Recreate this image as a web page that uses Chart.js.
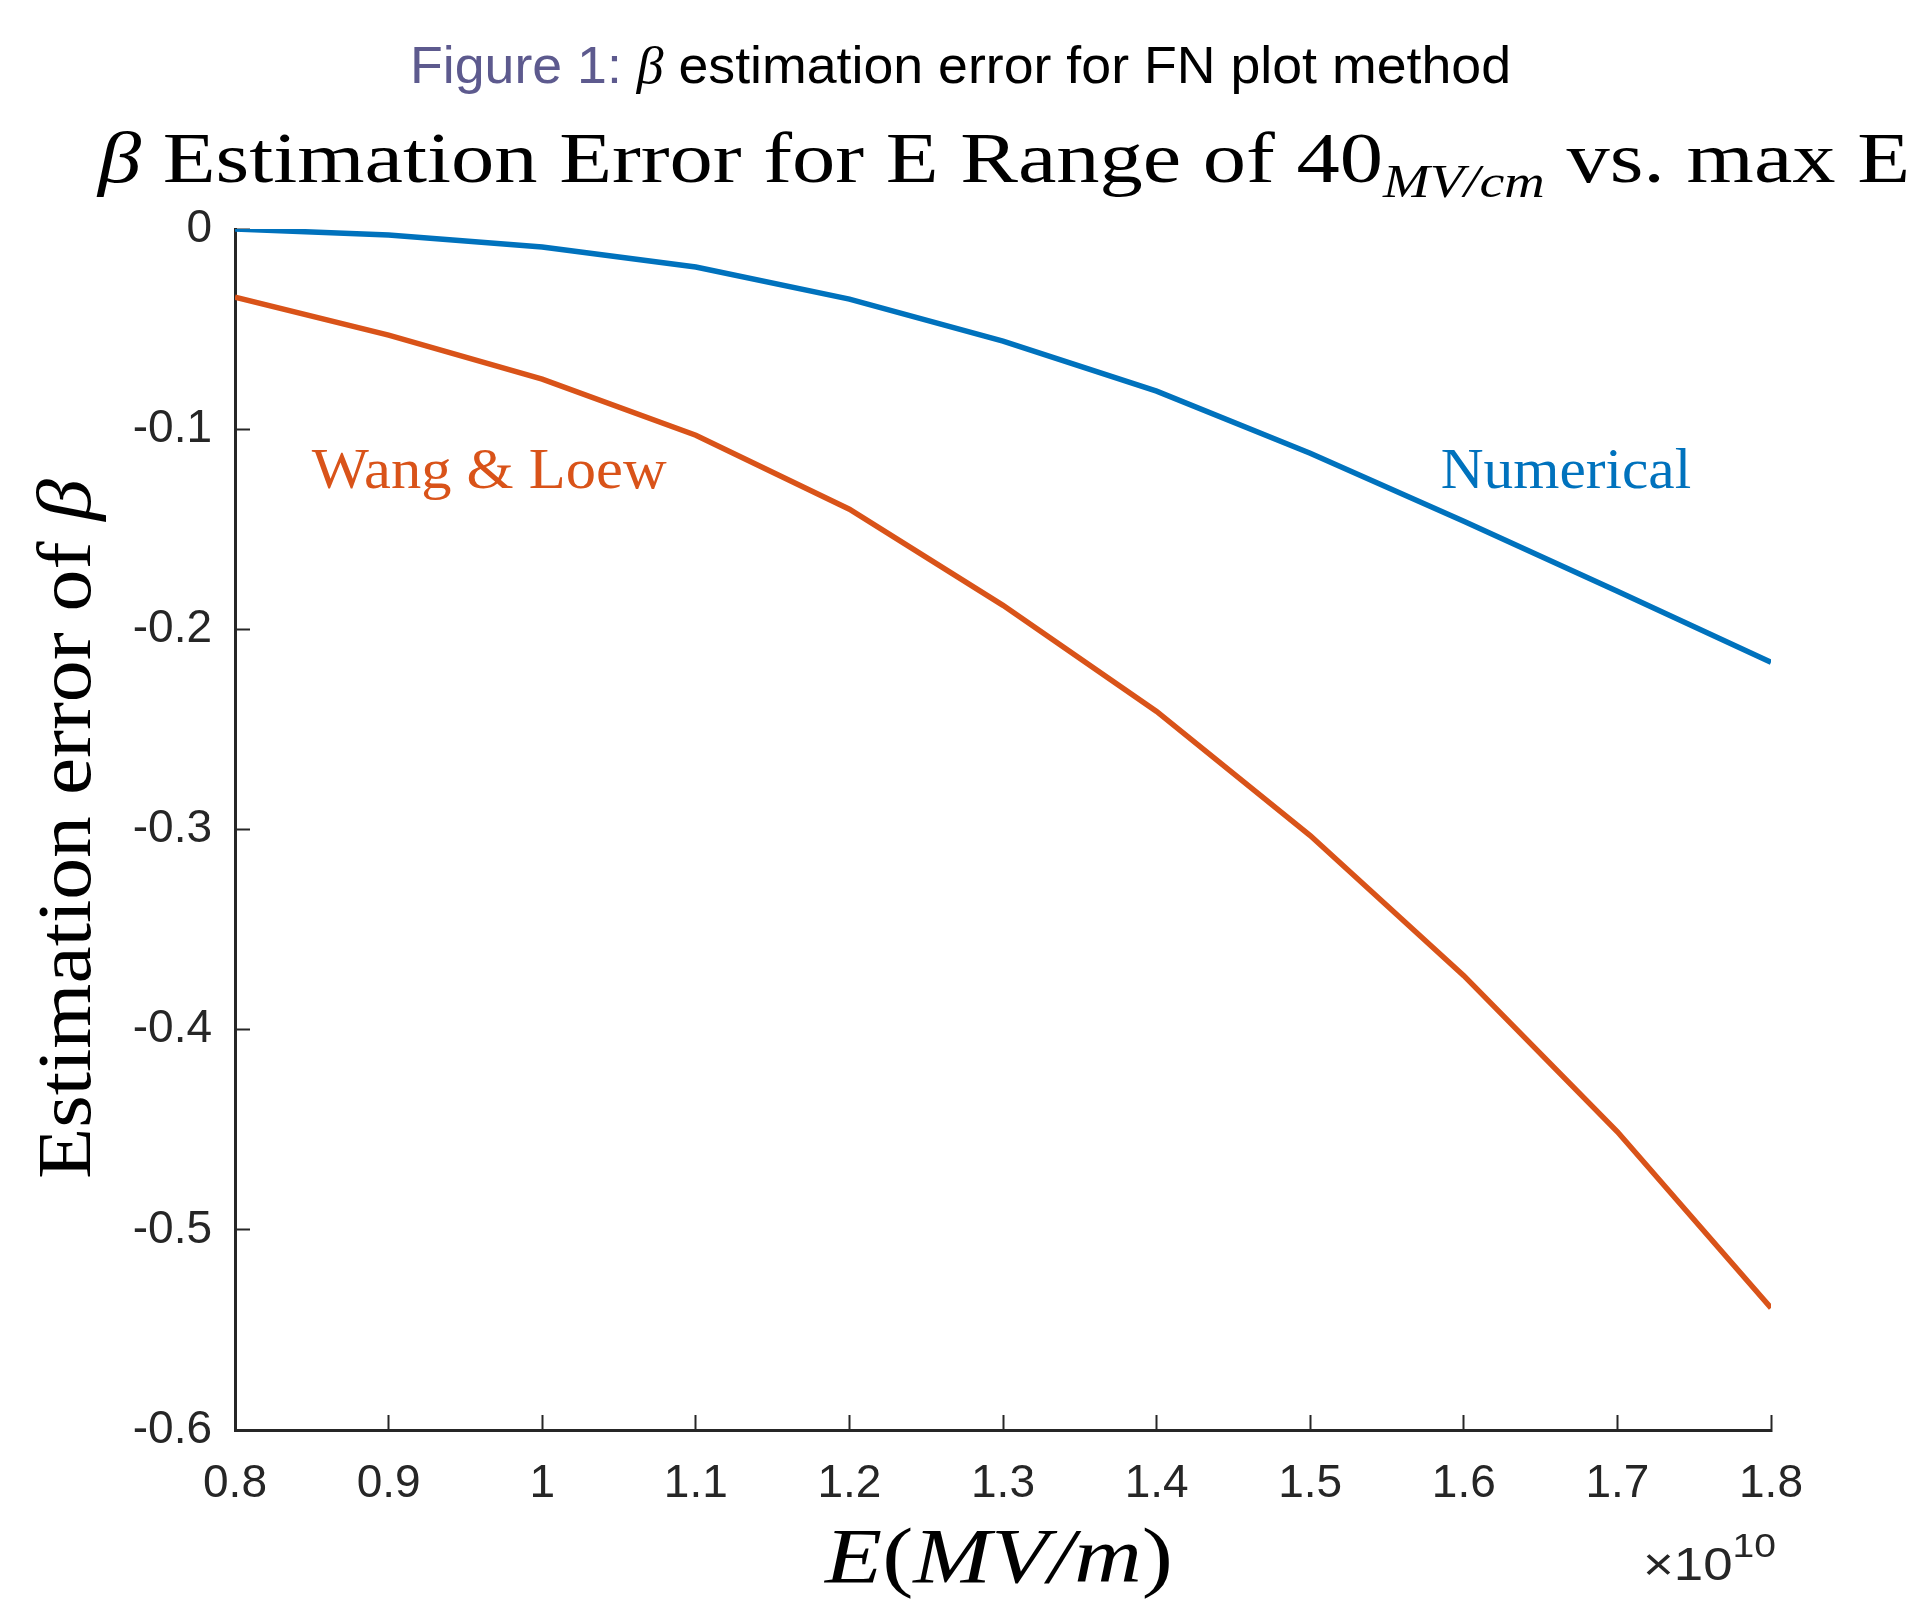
<!DOCTYPE html>
<html>
<head>
<meta charset="utf-8">
<title>β estimation error for FN plot method</title>
<script src="https://cdn.jsdelivr.net/npm/chart.js@4.4.1/dist/chart.umd.min.js"></script>
<style>
  html, body { margin: 0; padding: 0; background: #fff; }
  canvas { display: block; }
</style>
</head>
<body>
<canvas id="betaChart" width="1918" height="1599"></canvas>
<script>
// E (in units of 10^10) and the two estimation error curves
const eValues = [0.8, 0.9, 1.0, 1.1, 1.2, 1.3, 1.4, 1.5, 1.6, 1.7, 1.8];
const numericalError = [0, -0.003, -0.009, -0.019, -0.035, -0.056, -0.081, -0.112, -0.146, -0.181, -0.2165];
const wangLoewError = [-0.034, -0.053, -0.075, -0.103, -0.140, -0.188, -0.241, -0.303, -0.373, -0.451, -0.539];

const xTickLabels = ['0.8', '0.9', '1', '1.1', '1.2', '1.3', '1.4', '1.5', '1.6', '1.7', '1.8'];
const yTickLabels = ['-0.6', '-0.5', '-0.4', '-0.3', '-0.2', '-0.1', '0'];

const BLUE = '#0072BD';
const ORANGE = '#D95319';
const AXIS = '#262626';
const SERIF = '"Liberation Serif", "Times New Roman", serif';
const SANS = '"Liberation Sans", Arial, sans-serif';

function toPoints(ys) {
    return eValues.map((x, i) => ({ x: x, y: ys[i] }));
}

// draws a run of text pieces squeezed/stretched to fit between x0 and x1
function drawRun(ctx, segs, x0, x1, baseline) {
    let total = 0;
    segs.forEach(s => {
        ctx.font = s.font;
        s.w = ctx.measureText(s.text).width;
        total += s.w;
    });
    const k = x1 ? (x1 - x0) / total : 1;
    ctx.save();
    ctx.translate(x0, baseline);
    ctx.scale(k, 1);
    ctx.textBaseline = 'alphabetic';
    ctx.textAlign = 'left';
    let x = 0;
    segs.forEach(s => {
        ctx.font = s.font;
        ctx.fillStyle = s.color || '#000';
        ctx.fillText(s.text, x, s.dy || 0);
        x += s.w;
    });
    ctx.restore();
}

const figureText = {
    id: 'figureText',
    afterDraw(chart) {
        const ctx = chart.ctx;
        const xs = chart.scales.x;
        const ys = chart.scales.y;

        // caption
        drawRun(ctx, [
            { text: 'Figure 1: ', font: '52px ' + SANS, color: '#5d5a8e' },
            { text: 'β', font: 'italic 52px ' + SERIF },
            { text: ' estimation error for FN plot method', font: '52px ' + SANS }
        ], 410, 1511, 83);

        // plot title
        drawRun(ctx, [
            { text: 'β', font: 'italic 71px ' + SERIF },
            { text: ' Estimation Error for E Range of 40', font: '71px ' + SERIF },
            { text: 'MV/cm', font: 'italic 46px ' + SERIF, dy: 15 },
            { text: ' vs. max E', font: '71px ' + SERIF }
        ], 98, 1910, 182);

        // y axis title
        ctx.save();
        ctx.translate(90, 1179);
        ctx.rotate(-Math.PI / 2);
        drawRun(ctx, [
            { text: 'Estimation error of ', font: '76px ' + SERIF },
            { text: 'β', font: 'italic 76px ' + SERIF }
        ], 0, 700, 0);
        ctx.restore();

        // x axis title
        drawRun(ctx, [
            { text: 'E', font: 'italic 78px ' + SERIF },
            { text: '(', font: '78px ' + SERIF },
            { text: 'MV/m', font: 'italic 78px ' + SERIF },
            { text: ')', font: '78px ' + SERIF }
        ], 825, 1173, 1582);

        // exponent
        drawRun(ctx, [
            { text: '×10', font: '46px ' + SANS, color: AXIS },
            { text: '10', font: '34px ' + SANS, color: AXIS, dy: -23 }
        ], 1643, 1776, 1580);

        // curve labels
        drawRun(ctx, [{ text: 'Wang & Loew', font: '57px ' + SERIF, color: ORANGE }],
            xs.getPixelForValue(0.85), xs.getPixelForValue(1.081), ys.getPixelForValue(-0.1295));
        drawRun(ctx, [{ text: 'Numerical', font: '57px ' + SERIF, color: BLUE }],
            xs.getPixelForValue(1.585), xs.getPixelForValue(1.748), ys.getPixelForValue(-0.1295));
    }
};

new Chart(document.getElementById('betaChart'), {
    type: 'line',
    data: {
        datasets: [
            {
                label: 'Numerical',
                data: toPoints(numericalError),
                borderColor: BLUE,
                borderWidth: 5.5,
                pointRadius: 0,
                tension: 0,
                fill: false
            },
            {
                label: 'Wang & Loew',
                data: toPoints(wangLoewError),
                borderColor: ORANGE,
                borderWidth: 5.5,
                pointRadius: 0,
                tension: 0,
                fill: false
            }
        ]
    },
    options: {
        responsive: false,
        animation: false,
        devicePixelRatio: 1,
        layout: { padding: { left: 0, top: 229, right: 147, bottom: 0 } },
        plugins: {
            legend: { display: false },
            tooltip: { enabled: false },
            title: { display: false }
        },
        scales: {
            x: {
                type: 'linear',
                min: 0.8,
                max: 1.8,
                ticks: {
                    stepSize: 0.1,
                    color: AXIS,
                    font: { family: SANS, size: 46 },
                    padding: 42,
                    maxRotation: 0,
                    autoSkip: false,
                    callback: (v, i) => xTickLabels[i]
                },
                grid: { drawOnChartArea: false, tickLength: -15, tickWidth: 2, tickColor: AXIS },
                border: { display: true, width: 3, color: AXIS },
                afterFit: s => { s.height = 169; }
            },
            y: {
                type: 'linear',
                position: 'left',
                min: -0.6,
                max: 0,
                ticks: {
                    stepSize: 0.1,
                    color: AXIS,
                    font: { family: SANS, size: 46 },
                    padding: 38,
                    autoSkip: false,
                    callback: (v, i) => yTickLabels[i]
                },
                grid: { drawOnChartArea: false, tickLength: -15, tickWidth: 2, tickColor: AXIS },
                border: { display: true, width: 3, color: AXIS },
                afterFit: s => { s.width = 235; }
            }
        }
    },
    plugins: [figureText]
});
</script>
</body>
</html>
